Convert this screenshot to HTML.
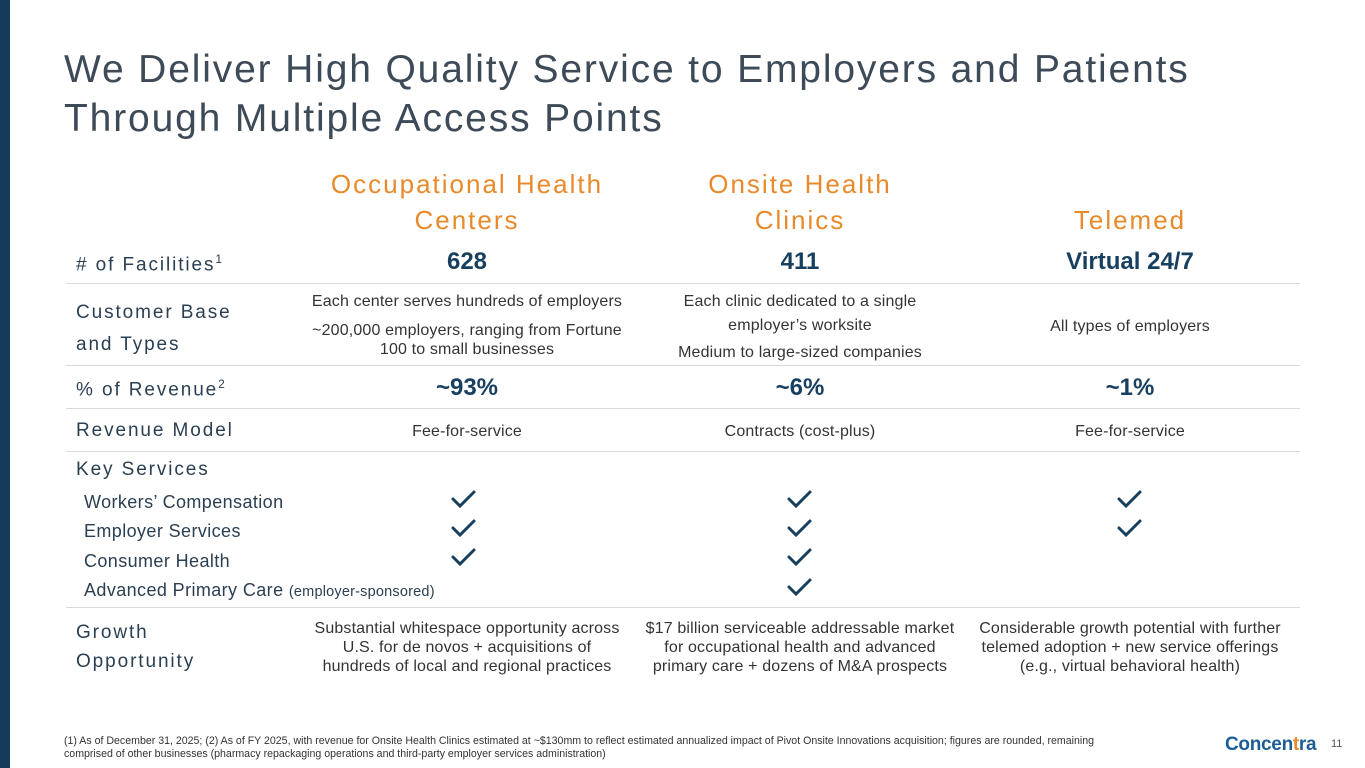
<!DOCTYPE html>
<html><head><meta charset="utf-8"><style>
*{margin:0;padding:0;box-sizing:border-box}
body{width:1365px;height:768px;position:relative;background:#fff;font-family:"Liberation Sans",sans-serif;overflow:hidden;color:#243746}
.a{position:absolute;white-space:nowrap}
.bar{position:absolute;left:0;top:0;width:10px;height:768px;background:#153a5b}
.t{left:64px;font-size:39px;color:#3d4a57;letter-spacing:1.85px}
.h{font-size:26px;color:#e8892a;text-align:center;letter-spacing:2px;line-height:36px}
.lab{left:76px;font-size:19px;color:#2a3f52;letter-spacing:1.9px}
.v{font-size:24px;font-weight:bold;color:#173f5f;text-align:center;width:330px}
.s{font-size:16px;letter-spacing:0.15px;color:#333;text-align:center;width:330px;line-height:19px}
.ln{position:absolute;left:66px;width:1234px;height:1px;background:#d9d9d9}
.ks{left:84px;font-size:18px;letter-spacing:0.4px;color:#2a3f52}
</style></head><body>
<div class="bar"></div>
<div class="a t" style="top:48px">We Deliver High Quality Service to Employers and Patients</div>
<div class="a t" style="top:97px">Through Multiple Access Points</div>

<div class="a h" style="left:302px;width:330px;top:166px">Occupational Health<br>Centers</div>
<div class="a h" style="left:635px;width:330px;top:166px">Onsite Health<br>Clinics</div>
<div class="a h" style="left:965px;width:330px;top:202px">Telemed</div>

<div class="a lab" style="top:252px"># of Facilities<sup style="font-size:12px">1</sup></div>
<div class="a v" style="left:302px;top:248px">628</div>
<div class="a v" style="left:635px;top:248px">411</div>
<div class="a v" style="left:965px;top:248px">Virtual 24/7</div>
<div class="ln" style="top:283px"></div>

<div class="a lab" style="top:297px;line-height:32px;white-space:normal;width:220px">Customer Base<br>and Types</div>
<div class="a s" style="left:302px;top:292px">Each center serves hundreds of employers</div>
<div class="a s" style="left:302px;top:321px">~200,000 employers, ranging from Fortune<br>100 to small businesses</div>
<div class="a s" style="left:635px;top:290px;line-height:24px">Each clinic dedicated to a single<br>employer’s worksite</div>
<div class="a s" style="left:635px;top:343px">Medium to large-sized companies</div>
<div class="a s" style="left:965px;top:317px">All types of employers</div>
<div class="ln" style="top:365px"></div>

<div class="a lab" style="top:377px">% of Revenue<sup style="font-size:12px">2</sup></div>
<div class="a v" style="left:302px;top:374px">~93%</div>
<div class="a v" style="left:635px;top:374px">~6%</div>
<div class="a v" style="left:965px;top:374px">~1%</div>
<div class="ln" style="top:408px"></div>

<div class="a lab" style="top:420px">Revenue Model</div>
<div class="a s" style="left:302px;top:422px">Fee-for-service</div>
<div class="a s" style="left:635px;top:422px">Contracts (cost-plus)</div>
<div class="a s" style="left:965px;top:422px">Fee-for-service</div>
<div class="ln" style="top:451px"></div>

<div class="a lab" style="top:459px">Key Services</div>
<div class="a ks" style="top:492px">Workers’ Compensation</div>
<div class="a ks" style="top:521px">Employer Services</div>
<div class="a ks" style="top:551px">Consumer Health</div>
<div class="a ks" style="top:580px">Advanced Primary Care <span style="font-size:14.5px;letter-spacing:0.2px">(employer-sponsored)</span></div>

<svg class="a" style="left:0;top:0" width="1365" height="768">
<g fill="none" stroke="#173f5f" stroke-width="3" stroke-linecap="round">
<path d="M453 499l7 7 14-14"/><path d="M789 499l7 7 14-14"/><path d="M1119 499l7 7 14-14"/>
<path d="M453 528l7 7 14-14"/><path d="M789 528l7 7 14-14"/><path d="M1119 528l7 7 14-14"/>
<path d="M453 557l7 7 14-14"/><path d="M789 557l7 7 14-14"/>
<path d="M789 587l7 7 14-14"/>
</g></svg>
<div class="ln" style="top:607px"></div>

<div class="a lab" style="top:618px;line-height:29px">Growth<br>Opportunity</div>
<div class="a s" style="left:302px;top:619px">Substantial whitespace opportunity across<br>U.S. for de novos + acquisitions of<br>hundreds of local and regional practices</div>
<div class="a s" style="left:635px;top:619px">$17 billion serviceable addressable market<br>for occupational health and advanced<br>primary care + dozens of M&amp;A prospects</div>
<div class="a s" style="left:965px;top:619px">Considerable growth potential with further<br>telemed adoption + new service offerings<br>(e.g., virtual behavioral health)</div>

<div class="a" style="left:64px;top:735px;font-size:10.6px;color:#333;line-height:12.5px">(1) As of December 31, 2025; (2) As of FY 2025, with revenue for Onsite Health Clinics estimated at ~$130mm to reflect estimated annualized impact of Pivot Onsite Innovations acquisition; figures are rounded, remaining<br>comprised of other businesses (pharmacy repackaging operations and third-party employer services administration)</div>
<div class="a" style="left:1225px;top:734px;font-size:19px;font-weight:bold;color:#1d5d96;letter-spacing:-0.3px">Concen<span style="color:#e8892a">t</span>ra</div>
<div class="a" style="left:1331px;top:738px;font-size:11px;color:#555">11</div>
</body></html>
